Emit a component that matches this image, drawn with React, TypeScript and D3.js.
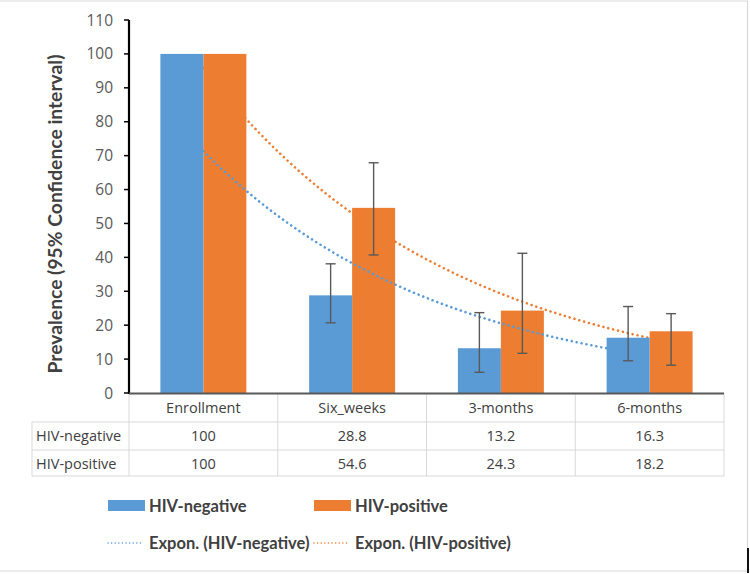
import React from 'react';
import * as d3 from 'd3';

const categories = ['Enrollment', 'Six_weeks', '3-months', '6-months'];
const seriesNames = ['HIV-negative', 'HIV-positive'];
const negValues = [100, 28.8, 13.2, 16.3];
const posValues = [100, 54.6, 24.3, 18.2];
const negLow: (number | null)[] = [null, 20.7, 6.1, 9.5];
const negHigh: (number | null)[] = [null, 38.1, 23.7, 25.5];
const posLow: (number | null)[] = [null, 40.7, 11.7, 8.2];
const posHigh: (number | null)[] = [null, 67.9, 41.2, 23.4];
const yTickValues = [0, 10, 20, 30, 40, 50, 60, 70, 80, 90, 100, 110];

const BLUE = '#5B9BD5';
const ORANGE = '#ED7D31';
const BOLD_FONT = 'Lato, "Open Sans", sans-serif';
const FONT = '"Open Sans", Lato, sans-serif';

function expFit(vals: number[]) {
  const xs = vals.map((_, i) => i + 1);
  const ly = vals.map((v) => Math.log(v));
  const mx = d3.mean(xs) as number;
  const my = d3.mean(ly) as number;
  let num = 0, den = 0;
  xs.forEach((x, i) => { num += (x - mx) * (ly[i] - my); den += (x - mx) * (x - mx); });
  const b = num / den;
  const lnA = my - b * mx;
  return (x: number) => Math.exp(lnA + b * x);
}

export default function App() {
  const W = 750, H = 574;
  const left = 129, right = 724, top = 20, bottom = 393;
  const x0 = d3.scaleBand<string>().domain(categories).range([left, right]).padding(0);
  const x1 = d3.scaleBand<string>().domain(seriesNames).range([0, x0.bandwidth()]).paddingInner(0).paddingOuter(0.73);
  const y = d3.scaleLinear().domain([0, 110]).range([bottom, top]);

  const seriesData = [
    { name: seriesNames[0], values: negValues, low: negLow, high: negHigh, color: BLUE },
    { name: seriesNames[1], values: posValues, low: posLow, high: posHigh, color: ORANGE },
  ];

  const catX = (t: number) => (x0(categories[0]) as number) + x0.bandwidth() / 2 + (t - 1) * x0.step();
  const trendPath = (vals: number[]) => {
    const f = expFit(vals);
    const pts: [number, number][] = d3.range(0, 121).map((k) => {
      const t = 1 + (k / 120) * (vals.length - 1);
      return [catX(t), y(f(t))];
    });
    return d3.line()(pts) as string;
  };

  const bars = (s: typeof seriesData[0]) =>
    s.values.map((v, i) => (
      <rect key={s.name + i}
        x={(x0(categories[i]) as number) + (x1(s.name) as number)}
        y={y(v)} width={x1.bandwidth()} height={y(0) - y(v)} fill={s.color} />
    ));

  const trend = (s: typeof seriesData[0]) => (
    <path d={trendPath(s.values)} fill="none" stroke={s.color} strokeWidth={2.6}
      strokeDasharray="0.01 5" strokeLinecap="round" />
  );

  const errorBars = seriesData.map((s) =>
    s.values.map((_, i) => {
      const lo = s.low[i], hi = s.high[i];
      if (lo == null || hi == null) return null;
      const cx = (x0(categories[i]) as number) + (x1(s.name) as number) + x1.bandwidth() / 2;
      return (
        <g key={s.name + 'e' + i} stroke="#595959" strokeWidth={1.4}>
          <line x1={cx} x2={cx} y1={y(hi)} y2={y(lo)} />
          <line x1={cx - 5} x2={cx + 5} y1={y(hi)} y2={y(hi)} />
          <line x1={cx - 5} x2={cx + 5} y1={y(lo)} y2={y(lo)} />
        </g>
      );
    })
  );

  const rowTop = bottom + 1;
  const rowYs = [rowTop, 422, 450, 476];
  const colXs = categories.map((c) => x0(c) as number).concat([right]);
  const gridColor = '#D9D9D9';

  return (
    <svg width={W} height={H} style={{ position: 'absolute', left: 0, top: 0, background: '#fff' }}
      fontFamily={FONT}>
      <rect x={0} y={0} width={W} height={H} fill="#fff" />
      {/* frame */}
      <line x1={0} x2={747.5} y1={1} y2={1} stroke={gridColor} strokeWidth={1.2} />
      <line x1={747.5} x2={747.5} y1={1} y2={571} stroke={gridColor} strokeWidth={1.2} />
      <line x1={0} x2={747.5} y1={571} y2={571} stroke={gridColor} strokeWidth={1.2} />
      <rect x={747} y={548} width={2} height={25} fill="#111" />

      {/* y axis title */}
      <text transform={`translate(62,214) rotate(-90)`} textAnchor="middle" fontFamily={BOLD_FONT}
        fontWeight="bold" fontSize={19.3} fill="#404040">Prevalence (95% Confidence interval)</text>

      {/* y ticks */}
      {yTickValues.map((t) => (
        <g key={'t' + t}>
          <line x1={left - 5} x2={left} y1={y(t)} y2={y(t)} stroke="#000" strokeWidth={1.5} />
          <text x={113} y={y(t)} dy="0.36em" textAnchor="end" fontSize={15.5} fill="#595959">{t}</text>
        </g>
      ))}

      {/* marks: orange trend, orange bars, blue trend, blue bars */}
      {trend(seriesData[1])}
      {bars(seriesData[1])}
      {trend(seriesData[0])}
      {bars(seriesData[0])}
      {errorBars}

      {/* table grid */}
      {colXs.map((cx, i) => (
        <line key={'v' + i} x1={cx} x2={cx} y1={rowTop} y2={476} stroke={gridColor} strokeWidth={1} />
      ))}
      <line x1={32} x2={32} y1={422} y2={476} stroke={gridColor} strokeWidth={1} />
      {rowYs.slice(1).map((ry, i) => (
        <line key={'h' + i} x1={32} x2={right} y1={ry} y2={ry} stroke={gridColor} strokeWidth={1} />
      ))}

      {/* axes lines */}
      <line x1={left} x2={left} y1={top} y2={bottom + 1} stroke="#000" strokeWidth={2.2} />
      <line x1={left} x2={right} y1={bottom + 0.5} y2={bottom + 0.5} stroke="#595959" strokeWidth={2.2} />

      {/* table text */}
      {categories.map((c, i) => (
        <text key={'c' + i} x={(x0(c) as number) + x0.bandwidth() / 2} y={408} dy="0.36em"
          textAnchor="middle" fontSize={14.5} fill="#404040">{c}</text>
      ))}
      {seriesData.map((s, r) => (
        <g key={'row' + r}>
          <text x={36} y={rowYs[r + 1] + 13.5} dy="0.36em" fontSize={14.5} fill="#404040">{s.name}</text>
          {s.values.map((v, i) => (
            <text key={i} x={(x0(categories[i]) as number) + x0.bandwidth() / 2} y={rowYs[r + 1] + 13.5}
              dy="0.36em" textAnchor="middle" fontSize={14.5} fill="#404040">{String(v)}</text>
          ))}
        </g>
      ))}

      {/* legend */}
      {seriesData.map((s, i) => {
        const lx = [108, 314][i];
        return (
          <g key={'lg' + i} fontFamily={BOLD_FONT}>
            <rect x={lx} y={500} width={37} height={11} fill={s.color} />
            <text x={lx + 41} y={506} dy="0.36em" fontSize={16.5} fontWeight="bold" fill="#404040">{s.name}</text>
            <line x1={lx} x2={lx + 34} y1={543} y2={543} stroke={s.color} strokeWidth={1.6}
              strokeDasharray="0.01 3.6" strokeLinecap="round" />
            <text x={lx + 41} y={543} dy="0.36em" fontSize={16.5} fontWeight="bold" fill="#404040">{`Expon. (${s.name})`}</text>
          </g>
        );
      })}
    </svg>
  );
}
